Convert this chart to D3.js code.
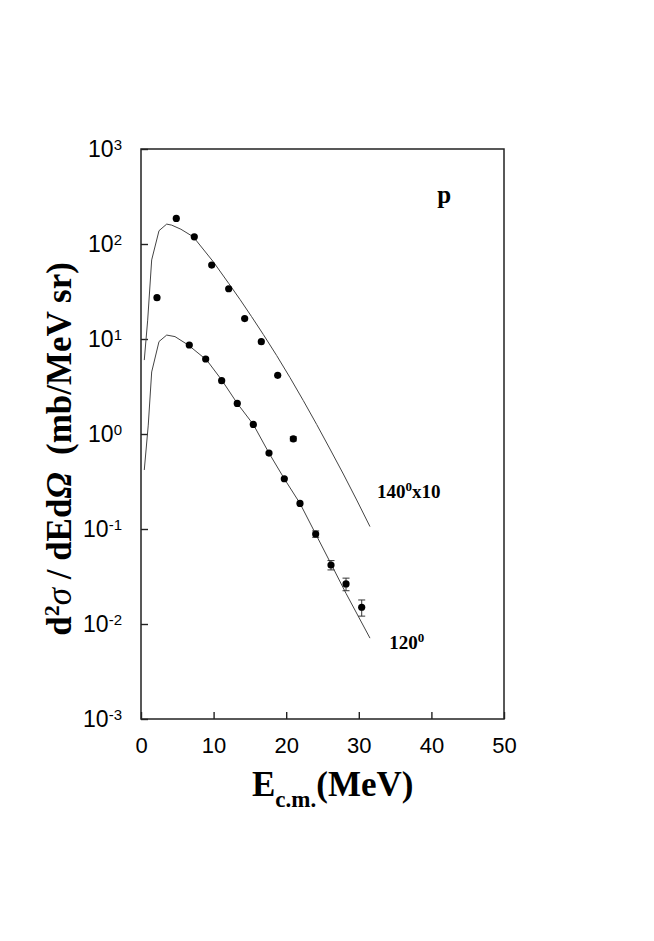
<!DOCTYPE html>
<html>
<head>
<meta charset="utf-8">
<script src="https://cdn.jsdelivr.net/npm/d3@7"></script>
<style>
  body { margin: 0; background: #fff; }
  .tick text { fill: #000; font-family: "Liberation Sans", Arial, sans-serif; }
</style>
</head>
<body>
<div id="chart"></div>
<script>
// measured points, 140 deg (x10) and 120 deg
var e140 = [2.2, 4.86, 7.34, 9.74, 12.08, 14.28, 16.57, 18.83, 20.98];
var y140 = [27.2, 186, 119, 60, 33.8, 16.4, 9.37, 4.15, 0.89];
var err140 = [0, 0, 0, 0, 0, 0, 0, 0, 0.045];

var e120 = [6.65, 8.91, 11.11, 13.26, 15.47, 17.63, 19.74, 21.9, 24.06, 26.17, 28.24, 30.4];
var y120 = [8.65, 6.16, 3.64, 2.10, 1.26, 0.63, 0.338, 0.186, 0.0886, 0.0418, 0.0264, 0.015];
var err120 = [0, 0, 0, 0, 0, 0, 0, 0, 0.0068, 0.0047, 0.004, 0.0029];

// calculated curves
var curveE140 = [0.45, 0.92, 1.47, 2.48, 3.54, 4.23, 5.5, 7.2, 9.96, 12.08, 13.64, 15.22, 16.85, 18.68, 20.52,
                 22.35, 24.2, 26.03, 27.87, 29.71, 31.54];
var curveY140 = [6.0, 15.8, 68, 138, 162, 158, 143, 119, 65, 38.5, 26.05, 17.25, 11.15, 6.71, 3.93,
                 2.253, 1.259, 0.695, 0.379, 0.202, 0.106];

var curveE120 = [0.45, 1.0, 1.47, 2.48, 3.54, 4.68, 6.5, 9.05, 11.12, 13.26, 15.47, 17.63, 19.74, 21.9, 24.06, 26.17, 28.24, 31.54];
var curveY120 = [0.418, 1.24, 4.5, 9.4, 11.0, 10.6, 8.65, 6.0, 3.7, 2.1, 1.26, 0.63, 0.338, 0.186, 0.0886, 0.043, 0.021, 0.0071];

var xTicks = [0, 10, 20, 30, 40, 50];
var yTicks = [1e-3, 1e-2, 1e-1, 1e0, 1e1, 1e2, 1e3];

var width = 654,
    height = 941;

var x = d3.scaleLinear().domain([0, 50]).range([141, 504]);
var y = d3.scaleLog().domain([1e-3, 1e3]).range([719, 149]);

var svg = d3.select("#chart")
    .append("svg")
    .attr("width", width)
    .attr("height", height);

// axes (ticks point inward)
var xAxis = d3.axisBottom(x)
    .tickValues(xTicks)
    .tickSizeInner(-7)
    .tickSizeOuter(0)
    .tickPadding(18);

svg.append("g")
    .attr("transform", "translate(0,719)")
    .call(xAxis)
    .call(function (g) {
        g.select(".domain").remove();
        g.selectAll(".tick line").attr("stroke", "#222").attr("stroke-width", 1.4);
        g.selectAll(".tick text").attr("font-size", 22);
    });

var yAxis = d3.axisLeft(y)
    .tickValues(yTicks)
    .tickSizeInner(-7)
    .tickSizeOuter(0)
    .tickPadding(19)
    .tickFormat(function () { return ""; });

svg.append("g")
    .attr("transform", "translate(141,0)")
    .call(yAxis)
    .call(function (g) {
        g.select(".domain").remove();
        g.selectAll(".tick line").attr("stroke", "#222").attr("stroke-width", 1.4);
        g.selectAll(".tick text")
            .attr("font-size", 23)
            .each(function (d) {
                var t = d3.select(this);
                t.append("tspan").text("10");
                t.append("tspan")
                    .attr("dy", -7)
                    .attr("font-size", 15)
                    .text(Math.round(Math.log10(d)));
            });
    });

// frame
svg.append("rect")
    .attr("x", x(0))
    .attr("y", y(1e3))
    .attr("width", x(50) - x(0))
    .attr("height", y(1e-3) - y(1e3))
    .attr("fill", "none")
    .attr("stroke", "#222")
    .attr("stroke-width", 1.5);

// curves
var line = d3.line()
    .x(function (d) { return x(d[0]); })
    .y(function (d) { return y(d[1]); });

[[curveE140, curveY140], [curveE120, curveY120]].forEach(function (c) {
    svg.append("path")
        .datum(d3.zip(c[0], c[1]))
        .attr("d", line)
        .attr("fill", "none")
        .attr("stroke", "#444")
        .attr("stroke-width", 1);
});

// data points with error bars
function drawSeries(es, ys, errs) {
    var pts = d3.zip(es, ys, errs);
    var eb = svg.append("g").attr("stroke", "#333").attr("stroke-width", 1);
    pts.filter(function (d) { return d[2] > 0; }).forEach(function (d) {
        var cx = x(d[0]), y0 = y(d[1] - d[2]), y1 = y(d[1] + d[2]);
        eb.append("line").attr("x1", cx).attr("x2", cx).attr("y1", y0).attr("y2", y1);
        eb.append("line").attr("x1", cx - 3.5).attr("x2", cx + 3.5).attr("y1", y0).attr("y2", y0);
        eb.append("line").attr("x1", cx - 3.5).attr("x2", cx + 3.5).attr("y1", y1).attr("y2", y1);
    });
    svg.append("g").selectAll("circle")
        .data(pts)
        .enter()
        .append("circle")
        .attr("cx", function (d) { return x(d[0]); })
        .attr("cy", function (d) { return y(d[1]); })
        .attr("r", 3.6)
        .attr("fill", "#000");
}
drawSeries(e140, y140, err140);
drawSeries(e120, y120, err120);

// annotations
var serif = "'Liberation Serif', 'Times New Roman', serif";

svg.append("text")
    .attr("x", x(40.8))
    .attr("y", y(Math.pow(10, 2.43)))
    .attr("font-family", serif)
    .attr("font-weight", "bold")
    .attr("font-size", 25)
    .text("p");

var lab140 = svg.append("text")
    .attr("x", x(32.5))
    .attr("y", y(0.212))
    .attr("font-family", serif)
    .attr("font-weight", "bold")
    .attr("font-size", 19);
lab140.append("tspan").text("140");
lab140.append("tspan").attr("dy", -7).attr("font-size", 13).text("0");
lab140.append("tspan").attr("dy", 7).text("x10");

var lab120 = svg.append("text")
    .attr("x", x(34.2))
    .attr("y", y(0.00542))
    .attr("font-family", serif)
    .attr("font-weight", "bold")
    .attr("font-size", 19);
lab120.append("tspan").text("120");
lab120.append("tspan").attr("dy", -7).attr("font-size", 13).text("0");

// axis titles
var xt = svg.append("text")
    .attr("x", 252)
    .attr("y", 796)
    .attr("font-family", serif)
    .attr("font-weight", "bold")
    .attr("font-size", 35);
xt.append("tspan").text("E");
xt.append("tspan").attr("dy", 11).attr("font-size", 23).text("c.m.");
xt.append("tspan").attr("dy", -11).text("(MeV)");

var yt = svg.append("text")
    .attr("transform", "translate(71,449) rotate(-90)")
    .attr("text-anchor", "middle")
    .attr("font-family", serif)
    .attr("font-weight", "bold")
    .attr("font-size", 35);
yt.append("tspan").text("d");
yt.append("tspan").attr("dy", -12).attr("font-size", 22).text("2");
yt.append("tspan").attr("dy", 12).attr("font-style", "italic").attr("font-weight", "normal").text("σ");
yt.append("tspan").text(" / dEd");
yt.append("tspan").attr("font-style", "italic").text("Ω");
yt.append("tspan").text("\u00a0 (mb/MeV sr)");
</script>
</body>
</html>
